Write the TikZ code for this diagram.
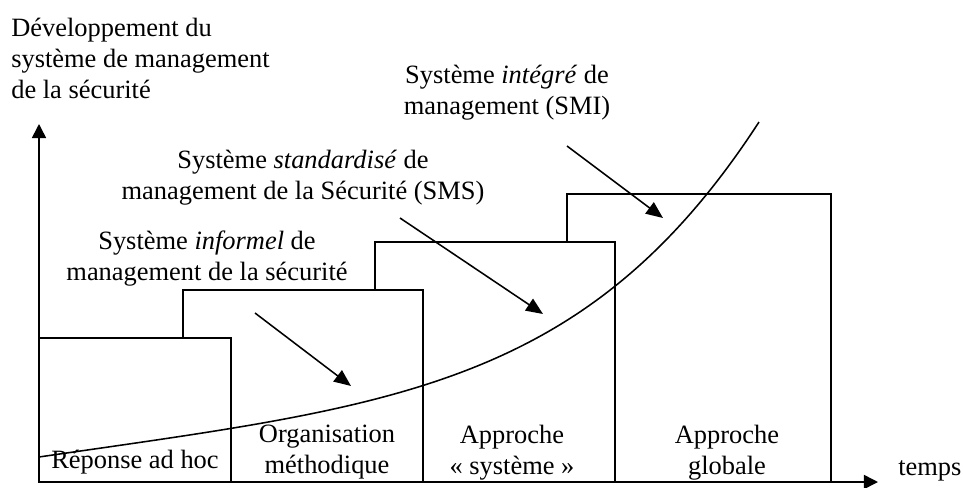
\documentclass[tikz,border=0pt]{standalone}
\usepackage{fontspec}
\setmainfont{Liberation Serif}
\usetikzlibrary{arrows.meta}
\tikzset{
    lbl/.style={align=center, inner sep=0pt, font=\fontsize{18.8}{22}\selectfont},
    stage/.style={draw, fill=white, line width=1.1pt},
    axis/.style={-{Triangle[length=10pt,width=10pt]}, line width=1.1pt},
    hint/.style={-{Triangle[length=12pt,width=10pt]}, line width=1.1pt}
}

\begin{document}
\begin{tikzpicture}[x=0.025cm, y=-0.025cm]
    \useasboundingbox (0,0) rectangle (963,488);
    \draw[stage] (567,194) rectangle (831,482);
    \draw[stage] (375,242) rectangle (615,482);
    \draw[stage] (183,290) rectangle (423,482);
    \draw[stage] (39,338) rectangle (231,482);
    \coordinate (o) at (39,482);
    \coordinate (ytip) at (39,124);
    \coordinate (xtip) at (878,482);
    \draw[axis] (o) -- (ytip);
    \draw[axis] (o) -- (xtip);
    \coordinate (c0) at (39,457);
    \coordinate (c1) at (759,122);
    \draw[line width=1.1pt] (c0) .. controls (389,406) and (585,390) .. (c1);
    \node[lbl, align=left, anchor=north west] (ylab) at (11,18) {Développement du\\système de management\\de la sécurité};
    \node[lbl, anchor=north] (smi) at (507,65) {Système \textit{intégré} de\\management (SMI)};
    \node[lbl, anchor=north] (sms) at (303,150) {Système \textit{standardisé} de\\management de la Sécurité (SMS)};
    \node[lbl, anchor=north] (informel) at (207,231) {Système \textit{informel} de\\management de la sécurité};
    \node[lbl, anchor=north] (adhoc) at (135,450) {Réponse ad hoc};
    \node[lbl, anchor=north] (methodique) at (327,425) {Organisation\\méthodique};
    \node[lbl, anchor=north] (systeme) at (512,425) {Approche\\« système »};
    \node[lbl, anchor=north] (globale) at (727,425) {Approche\\globale};
    \node[lbl, anchor=base west] (temps) at (898,475) {temps};
    \coordinate (inf1) at (255,313);
    \coordinate (inf2) at (351,386);
    \coordinate (sms1) at (400,218);
    \coordinate (sms2) at (543,314);
    \coordinate (smi1) at (567,146);
    \coordinate (smi2) at (663,218);
    \draw[hint] (inf1) -- (inf2);
    \draw[hint] (sms1) -- (sms2);
    \draw[hint] (smi1) -- (smi2);
\end{tikzpicture}
\end{document}
